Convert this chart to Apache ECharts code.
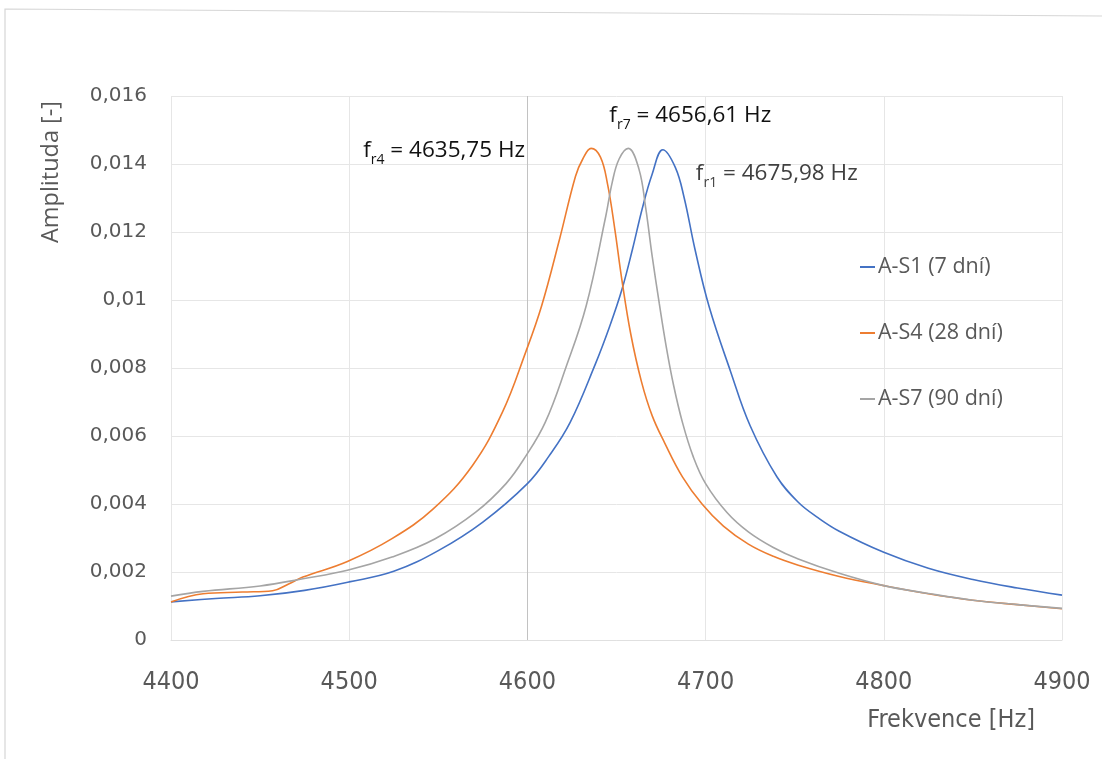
<!DOCTYPE html>
<html>
<head>
<meta charset="utf-8">
<script src="https://cdn.jsdelivr.net/npm/echarts@6/dist/echarts.min.js"></script>
<style>
  html, body { margin: 0; padding: 0; background: #fff; }
  #chart { width: 1102px; height: 759px; }
</style>
</head>
<body>
<div id="chart"></div>
<script>
// Frequency response of three specimens, amplitude vs. frequency
const seriesNames = ['A-S1 (7 dní)', 'A-S4 (28 dní)', 'A-S7 (90 dní)'];

const freqS1 = [4400, 4425, 4450, 4475, 4500, 4525, 4550, 4575, 4600, 4612, 4624, 4638, 4646, 4653, 4659, 4664.5, 4670, 4675.98, 4683, 4688, 4694, 4702, 4714, 4725, 4740, 4752, 4763, 4775, 4800, 4825, 4850, 4875, 4900];
const ampS1  = [0.00112, 0.00122, 0.00130, 0.00146, 0.00171, 0.00202, 0.00263, 0.00347, 0.00460, 0.00540, 0.00640, 0.00810, 0.00920, 0.01030, 0.01150, 0.01270, 0.01370, 0.01442, 0.01390, 0.01300, 0.01150, 0.00980, 0.00790, 0.00630, 0.00480, 0.00405, 0.00360, 0.00320, 0.00258, 0.00211, 0.00178, 0.00153, 0.00132];

const freqS4 = [4400, 4418, 4440, 4457, 4466, 4474, 4499, 4524, 4547, 4569, 4586, 4599, 4608, 4618, 4627, 4631, 4635.75, 4641, 4645, 4649, 4653, 4658, 4664, 4670, 4677, 4687, 4698, 4710, 4724, 4738, 4752, 4775, 4800, 4825, 4850, 4875, 4900];
const ampS4  = [0.00112, 0.00136, 0.00141, 0.00145, 0.00165, 0.00185, 0.00231, 0.00298, 0.00385, 0.00512, 0.00670, 0.00846, 0.00983, 0.01178, 0.01364, 0.01414, 0.01446, 0.01420, 0.01340, 0.01210, 0.01060, 0.00900, 0.00760, 0.00660, 0.00580, 0.00480, 0.00400, 0.00335, 0.00282, 0.00246, 0.00220, 0.00187, 0.00160, 0.00136, 0.00117, 0.00104, 0.00092];

const freqS7 = [4400, 4418, 4450, 4474, 4499, 4524, 4548, 4571, 4588, 4599, 4610, 4621.5, 4633, 4644, 4647.6, 4651.4, 4656.61, 4662.6, 4666.4, 4670, 4674, 4678, 4682, 4687, 4693, 4700, 4712, 4724, 4738, 4752, 4775, 4800, 4825, 4850, 4875, 4900];
const ampS7  = [0.00129, 0.00143, 0.00159, 0.00180, 0.00205, 0.00244, 0.00297, 0.00376, 0.00460, 0.00540, 0.00640, 0.00800, 0.00983, 0.01247, 0.01346, 0.01414, 0.01446, 0.01385, 0.01270, 0.01130, 0.00990, 0.00860, 0.00750, 0.00640, 0.00540, 0.00460, 0.00375, 0.00318, 0.00272, 0.00238, 0.00196, 0.00160, 0.00137, 0.00117, 0.00104, 0.00093];

// resonance frequencies shown in the peak annotations
const resonance = [
  { series: 0, sub: 'r1', freq: 4675.98, text: '4675,98 Hz' },
  { series: 1, sub: 'r4', freq: 4635.75, text: '4635,75 Hz' },
  { series: 2, sub: 'r7', freq: 4656.61, text: '4656,61 Hz' }
];

const xTicks = [4400, 4500, 4600, 4700, 4800, 4900];
const yTicks = ['0', '0,002', '0,004', '0,006', '0,008', '0,01', '0,012', '0,014', '0,016'];

const colors = ['#4472C4', '#ED7D31', '#A5A5A5'];
const freqs = [freqS1, freqS4, freqS7];
const amps = [ampS1, ampS4, ampS7];

// annotation placement relative to each peak
const labelOffsets = [[114, 26], [-147, 4], [62, -31]];
const labelColors = ['#404040', '#111111', '#111111'];

const chart = echarts.init(document.getElementById('chart'));

const series = seriesNames.map((name, i) => {
  const pts = freqs[i].map((f, k) => [f, amps[i][k]]);
  const r = resonance.find(o => o.series === i);
  const peakAmp = amps[i][freqs[i].indexOf(r.freq)];
  return {
    name,
    type: 'line',
    data: pts,
    showSymbol: false,
    smooth: 0.4,
    color: colors[i],
    lineStyle: { width: 1.6, color: colors[i] },
    z: 3,
    markPoint: {
      symbol: 'circle',
      symbolSize: 0,
      silent: true,
      data: [{ coord: [r.freq, peakAmp] }],
      label: {
        show: true,
        position: 'inside',
        offset: labelOffsets[i],
        formatter: '{m|f}{s|' + r.sub + '}{m| = ' + r.text + '}',
        rich: {
          m: { fontSize: 22.5, fontFamily: 'Open Sans', color: labelColors[i], verticalAlign: 'top', lineHeight: 27 },
          s: { fontSize: 14, fontFamily: 'Open Sans', color: labelColors[i], verticalAlign: 'top', padding: [14, 0, 0, 0], lineHeight: 16 }
        }
      }
    }
  };
});

// the 4600 Hz grid line is drawn darker than the rest
series[0].markLine = {
  silent: true,
  symbol: 'none',
  label: { show: false },
  lineStyle: { color: '#c2c2c2', width: 1, type: 'solid' },
  data: [{ xAxis: 4600 }],
  z: 1
};

const option = {
  backgroundColor: '#ffffff',
  animation: false,
  grid: { left: 171, right: 40, top: 96, bottom: 119, containLabel: false },
  legend: {
    orient: 'vertical',
    left: 855,
    top: 251,
    itemGap: 44,
    itemWidth: 15,
    itemHeight: 2,
    icon: 'rect',
    textStyle: { fontSize: 21.5, fontFamily: 'Open Sans', color: '#595959', padding: [0, 0, 0, -2] },
    data: seriesNames
  },
  xAxis: {
    type: 'value',
    min: 4400,
    max: 4900,
    interval: 100,
    name: 'Frekvence [Hz]',
    nameLocation: 'end',
    nameGap: -27,
    nameTextStyle: {
      fontSize: 25, fontFamily: 'Liberation Sans Narrow, DejaVu Sans Condensed, Roboto',
      color: '#595959', align: 'right', verticalAlign: 'top', padding: [68, 0, 0, 0]
    },
    axisLine: { show: true, lineStyle: { color: '#e0e0e0' } },
    axisTick: { show: false },
    axisLabel: {
      margin: 30,
      fontSize: 25,
      fontFamily: 'Liberation Sans Narrow, DejaVu Sans Condensed, Roboto',
      color: '#595959',
      formatter: v => String(xTicks[xTicks.indexOf(v)])
    },
    splitLine: { show: true, lineStyle: { color: '#e6e6e6', width: 1 } }
  },
  yAxis: {
    type: 'value',
    min: 0,
    max: 0.016,
    interval: 0.002,
    axisLine: { show: false },
    axisTick: { show: false },
    axisLabel: {
      margin: 24,
      fontSize: 20,
      fontFamily: 'DejaVu Sans',
      color: '#595959',
      formatter: v => yTicks[Math.round(v / 0.002)]
    },
    splitLine: { show: true, lineStyle: { color: '#e6e6e6', width: 1 } }
  },
  graphic: [
    {
      type: 'polyline',
      silent: true,
      shape: { points: [[5, 759], [5, 9], [1102, 16]] },
      style: { stroke: '#d6d6d6', lineWidth: 1.2, fill: null }
    },
    {
      type: 'text',
      x: 51,
      y: 172,
      rotation: Math.PI / 2,
      style: {
        text: 'Amplituda [-]',
        x: 0, y: 0,
        align: 'center',
        verticalAlign: 'middle',
        fontSize: 23.5,
        fontFamily: 'Open Sans',
        fill: '#595959'
      }
    }
  ],
  series
};

chart.setOption(option);
</script>
</body>
</html>
